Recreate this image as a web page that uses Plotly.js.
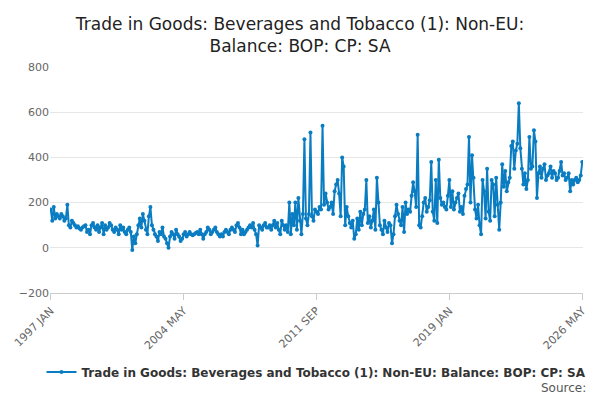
<!DOCTYPE html>
<html><head><meta charset="utf-8">
<script src="https://cdn.plot.ly/plotly-3.0.1.min.js"></script>
<style>body{margin:0}#chart{width:600px;height:400px}</style>
</head><body><div id="chart"></div>
<script>
const monthNames = ['JAN','FEB','MAR','APR','MAY','JUN','JUL','AUG','SEP','OCT','NOV','DEC'];
const years = [];
for (let y = 1997; y <= 2026; y++) years.push(y);

// monthly balance, £ million
const v1997 = [170,120,180,130,150,140,130,150,140,120,130,190];
const v1998 = [100,90,120,110,100,90,95,85,80,90,95,100];
const v1999 = [70,80,60,100,110,90,80,100,70,90,110,60];
const v2000 = [100,80,90,110,100,80,70,90,80,60,100,80];
const v2001 = [90,70,60,80,90,70,-10,50,20,60,100,130];
const v2002 = [90,150,120,80,60,140,180,100,80,60,50,30];
const v2003 = [70,60,90,50,40,20,0,50,70,60,40,80];
const v2004 = [60,50,30,40,60,70,50,60,70,60,55,60];
const v2005 = [65,70,60,80,60,40,60,70,90,80,60,70];
const v2006 = [80,90,70,60,50,60,50,70,80,70,60,80];
const v2007 = [90,80,70,100,110,90,60,80,60,70,80,90];
const v2008 = [100,90,110,80,60,10,100,90,80,100,110,90];
const v2009 = [90,100,80,100,120,90,110,80,60,120,100,80];
const v2010 = [100,70,200,60,150,100,200,80,220,120,60,150];
const v2011 = [480,130,100,150,510,140,120,170,160,150,180,170];
const v2012 = [540,190,240,200,170,180,200,150,250,280,300,240];
const v2013 = [140,400,360,100,180,140,110,90,120,40,60,130];
const v2014 = [80,160,100,150,170,300,110,140,90,120,170,80];
const v2015 = [310,200,100,80,60,120,90,70,110,100,20,60];
const v2016 = [140,190,150,120,100,180,70,200,150,170,160,230];
const v2017 = [290,250,180,500,100,90,140,200,220,160,180,210];
const v2018 = [380,160,120,300,110,390,220,190,200,180,170,230];
const v2019 = [300,180,250,170,200,220,240,160,180,150,230,260];
const v2020 = [280,490,200,410,310,170,130,190,100,60,300,250];
const v2021 = [130,350,160,120,300,280,140,310,190,80,200,370];
const v2022 = [270,340,250,290,310,450,470,350,430,460,640,440];
const v2023 = [350,280,330,260,300,490,350,360,520,470,220,330];
const v2024 = [360,310,350,370,300,320,330,360,310,340,330,300];
const v2025 = [310,340,380,320,330,300,310,330,250,300,280,300];
const v2026 = [310,290,300,320,380];

const series = [v1997,v1998,v1999,v2000,v2001,v2002,v2003,v2004,v2005,v2006,v2007,v2008,v2009,v2010,
  v2011,v2012,v2013,v2014,v2015,v2016,v2017,v2018,v2019,v2020,v2021,v2022,v2023,v2024,v2025,v2026];
const tickLabels = ['1997 JAN','2004 MAY','2011 SEP','2019 JAN','2026 MAY'];

const x = [], y = [];
series.forEach((vals, i) => vals.forEach((v, m) => {
  x.push(years[i] + ' ' + monthNames[m]);
  y.push(v);
}));

const name = '<b>Trade in Goods: Beverages and Tobacco (1): Non-EU: Balance: BOP: CP: SA</b>';

Plotly.newPlot('chart', [{
  x: x, y: y, name: name,
  type: 'scatter', mode: 'lines+markers',
  line: { color: '#0a7dc2', width: 2 },
  marker: { color: '#0a7dc2', size: 4 }
}], {
  width: 600, height: 400,
  margin: { l: 50, r: 17, t: 67, b: 107, autoexpand: false },
  title: { text: 'Trade in Goods: Beverages and Tobacco (1): Non-EU:<br>Balance: BOP: CP: SA',
    font: { family: 'DejaVu Sans', size: 17, color: '#222' }, x: 0.5, yref: 'container', y: 0.925, yanchor: 'middle' },
  font: { family: 'DejaVu Sans', color: '#666', size: 11 },
  showlegend: true,
  legend: { orientation: 'h', x: 0.5, xanchor: 'center', yref: 'container', y: 0.07, yanchor: 'middle',
    font: { size: 12, color: '#333' } },
  xaxis: { type: 'category', tickvals: tickLabels, ticktext: tickLabels, tickangle: -45,
    ticks: 'outside', ticklen: 6, tickcolor: '#ccc', showgrid: false, showline: true, linecolor: '#ccc',
    range: [-0.5, x.length - 0.5] },
  yaxis: { range: [-200, 800], dtick: 200, gridcolor: '#e6e6e6', zeroline: false, ticks: '' },
  annotations: [{ text: 'Source:', xref: 'paper', yref: 'paper', x: 1.01, y: -0.42, xanchor: 'right',
    yanchor: 'middle', showarrow: false, font: { size: 12, color: '#555' } }],
  paper_bgcolor: '#fff', plot_bgcolor: '#fff'
}, { displayModeBar: false });
</script></body></html>
